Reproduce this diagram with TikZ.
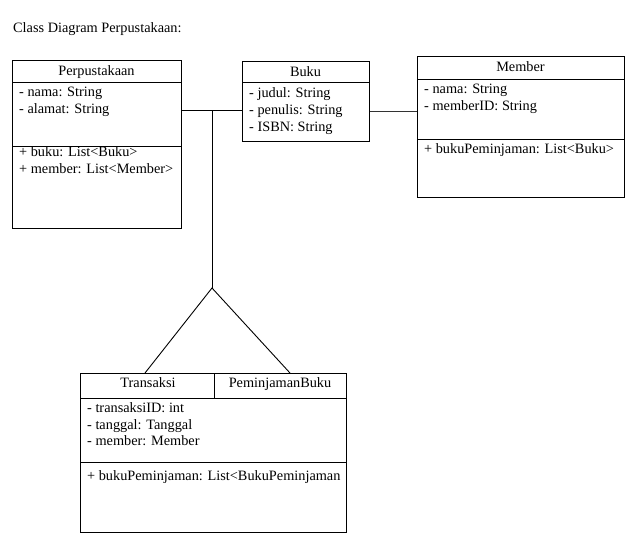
\documentclass[tikz,border=0pt]{standalone}
\usepackage{fontspec}
\setmainfont{Liberation Serif}
\begin{document}
\begin{tikzpicture}[x=1pt,y=-1pt,
  box/.style={draw, line width=0.9pt, anchor=north west, inner sep=0pt},
  txt/.style={anchor=base west, inner sep=0pt, font=\fontsize{14.3}{17}\selectfont},
  ctxt/.style={anchor=base, inner sep=0pt, font=\fontsize{14.3}{17}\selectfont},
  conn/.style={line width=0.9pt}]
\useasboundingbox (0,0) rectangle (640,550);
% title
\node[txt] (title) at (13,32) {Class Diagram Perpustakaan:};
% Perpustakaan
\node[box, minimum width=169pt, minimum height=168pt] (perp) at (12,60) {};
\draw[conn] (perp.west |- 0,82) -- (perp.east |- 0,82);
\draw[conn] (perp.west |- 0,146) -- (perp.east |- 0,146);
\node[ctxt] (perpT) at (96.5,75) {Perpustakaan};
\node[txt] (p1) at (19,96) {- nama: String};
\node[txt] (p2) at (19,113) {- alamat: String};
\node[txt] (p3) at (19,156.5) {+ buku: List<Buku>};
\node[txt] (p4) at (19,173.5) {+ member: List<Member>};
% Buku
\node[box, minimum width=127pt, minimum height=80pt] (buku) at (242,61) {};
\draw[conn] (buku.west |- 0,82) -- (buku.east |- 0,82);
\node[ctxt] (bukuT) at (305.5,76) {Buku};
\node[txt] (b1) at (249,97) {- judul: String};
\node[txt] (b2) at (249,114) {- penulis: String};
\node[txt] (b3) at (249,131) {- ISBN: String};
% Member
\node[box, minimum width=207pt, minimum height=141pt] (mem) at (417,56) {};
\draw[conn] (mem.west |- 0,79) -- (mem.east |- 0,79);
\draw[conn] (mem.west |- 0,139) -- (mem.east |- 0,139);
\node[ctxt] (memT) at (520.5,71) {Member};
\node[txt] (m1) at (424,93) {- nama: String};
\node[txt] (m2) at (424,110) {- memberID: String};
\node[txt] (m3) at (424,153) {+ bukuPeminjaman: List<Buku>};
% Transaksi / PeminjamanBuku
\node[box, minimum width=266pt, minimum height=159pt] (trx) at (80,373) {};
\draw[conn] (trx.west |- 0,398) -- (trx.east |- 0,398);
\draw[conn] (214,373) -- (214,398);
\draw[conn] (trx.west |- 0,462) -- (trx.east |- 0,462);
\node[ctxt] (trxT) at (148,387) {Transaksi};
\node[ctxt] (pbT) at (280,387) {PeminjamanBuku};
\node[txt] (t1) at (87,412) {- transaksiID: int};
\node[txt] (t2) at (87,429) {- tanggal: Tanggal};
\node[txt] (t3) at (87,445) {- member: Member};
\node[txt] (t4) at (87,480.5) {+ bukuPeminjaman: List<BukuPeminjaman};
% connectors
\coordinate (j1) at (212,110.5);
\coordinate (j2) at (212,288);
\coordinate (tl) at (145,373);
\coordinate (tr) at (290,373);
\draw[conn] (perp.east |- j1) -- (buku.west |- j1);
\draw[conn] (j1) -- (j2);
\draw[conn] (tl) -- (j2) -- (tr);
\draw[conn, black!80] (buku.east |- 0,111.5) -- (mem.west |- 0,111.5);
\end{tikzpicture}
\end{document}
